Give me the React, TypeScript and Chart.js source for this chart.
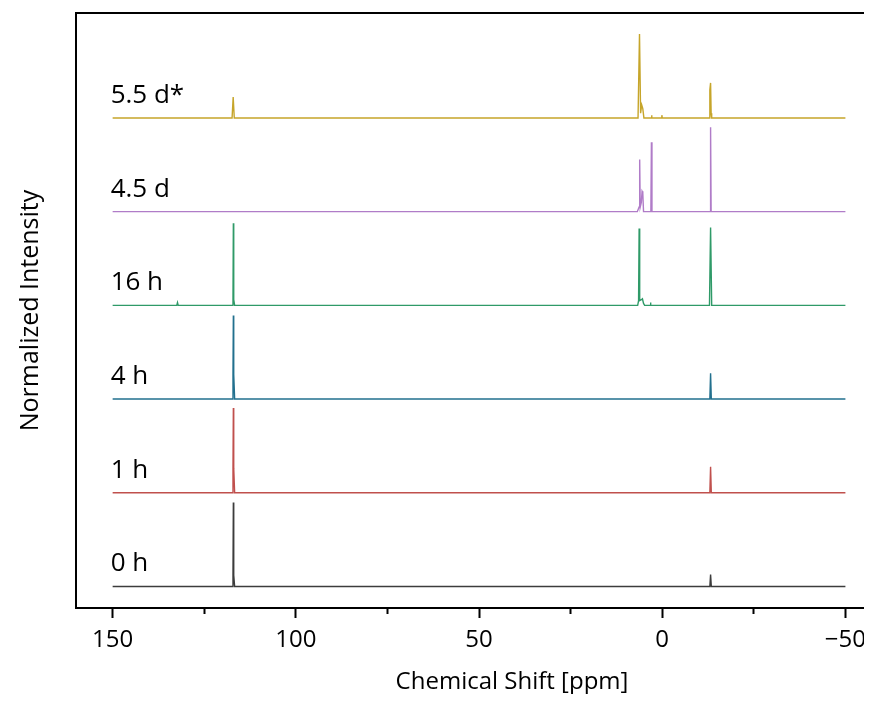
import React, { useEffect, useRef } from 'react';
import { Chart, registerables } from 'chart.js';

Chart.register(...registerables);

// Series (bottom to top)
const seriesLabels = ['0 h', '1 h', '4 h', '16 h', '4.5 d', '5.5 d*'];
const seriesColors = ['#3c3c3c', '#c0504d', '#22708e', '#2f9a68', '#b07cc8', '#c6a52a'];
const stackOffsets = [0, 1, 2, 3, 4, 5];

// [chemical shift (ppm), normalized intensity]
const spectrum0h: [number, number][] = [
  [150, 0], [117.4, 0], [117.15, 0.12], [117.05, 0.897], [116.95, 0.12], [116.7, 0],
  [-13.0, 0], [-13.2, 0.128], [-13.4, 0], [-50, 0],
];
const spectrum1h: [number, number][] = [
  [150, 0], [117.4, 0], [117.15, 0.26], [117.05, 0.905], [116.95, 0.26], [116.7, 0],
  [-13.0, 0], [-13.2, 0.278], [-13.4, 0], [-50, 0],
];
const spectrum4h: [number, number][] = [
  [150, 0], [117.4, 0], [117.15, 0.262], [117.05, 0.892], [116.95, 0.262], [116.7, 0],
  [-13.0, 0], [-13.2, 0.276], [-13.4, 0], [-50, 0],
];
const spectrum16h: [number, number][] = [
  [150, 0], [132.5, 0], [132.3, 0.03], [132.1, 0], [117.4, 0], [117.15, 0.06], [117.05, 0.876],
  [116.95, 0.06], [116.7, 0], [6.7, 0], [6.45, 0.05], [6.3, 0.82], [6.15, 0.05], [5.7, 0.06],
  [5.4, 0.07], [5.1, 0.02], [4.8, 0], [3.3, 0], [3.2, 0.03], [3.1, 0], [-12.9, 0], [-13.2, 0.83],
  [-13.5, 0], [-50, 0],
];
const spectrum45d: [number, number][] = [
  [150, 0], [6.8, 0], [6.3, 0.05], [6.15, 0.556], [6.0, 0.05], [5.7, 0.1], [5.5, 0.217],
  [5.3, 0.2], [5.1, 0], [3.1, 0], [2.95, 0.74], [2.8, 0], [-13.05, 0], [-13.2, 0.9],
  [-13.35, 0], [-50, 0],
];
const spectrum55d: [number, number][] = [
  [150, 0], [117.4, 0], [117.1, 0.224], [116.8, 0], [6.6, 0], [6.2, 0.897], [5.9, 0.05],
  [5.6, 0.139], [5.3, 0.1], [5.0, 0], [3.0, 0], [2.9, 0.03], [2.8, 0], [0.2, 0], [0.1, 0.03],
  [0.0, 0], [-12.8, 0], [-13.0, 0.3], [-13.2, 0.374], [-13.35, 0.05], [-13.5, 0], [-50, 0],
];
const spectra = [spectrum0h, spectrum1h, spectrum4h, spectrum16h, spectrum45d, spectrum55d];

// Axis
const xTickValues = [150, 125, 100, 75, 50, 25, 0, -25, -50, -75];
const xMajorTicks = [150, 100, 50, 0, -50];
const xTickLabels = ['150', '100', '50', '0', '\u221250'];
const xMin = -78;
const xMax = 160;
const yMin = -0.23;
const yMax = 6.12;

const FONT = '"Open Sans", "Noto Sans", sans-serif';

export default function App() {
  const ref = useRef<HTMLCanvasElement>(null);

  useEffect(() => {
    if (!ref.current) return;
    const labelPlugin = {
      id: 'stackLabels',
      afterDatasetsDraw(chart: any) {
        const { ctx, scales, chartArea } = chart;
        const x = scales.x;
        const y = scales.y;
        ctx.save();
        ctx.strokeStyle = '#000';
        ctx.lineWidth = 2;
        ctx.beginPath();
        ctx.moveTo(chartArea.left - 1, chartArea.top);
        ctx.lineTo(chartArea.right, chartArea.top);
        ctx.stroke();
        ctx.font = `26px ${FONT}`;
        ctx.fillStyle = '#000';
        ctx.textAlign = 'left';
        ctx.textBaseline = 'alphabetic';
        seriesLabels.forEach((lab, i) => {
          ctx.fillText(lab, x.getPixelForValue(150) - 2, y.getPixelForValue(stackOffsets[i]) - 15);
        });
        ctx.restore();
      },
    };

    const chart = new Chart(ref.current, {
      type: 'scatter',
      data: {
        datasets: spectra.map((s, i) => ({
          label: seriesLabels[i],
          data: s.map(([p, v]) => ({ x: p, y: v + stackOffsets[i] })),
          showLine: true,
          borderColor: seriesColors[i],
          backgroundColor: seriesColors[i],
          borderWidth: 1.4,
          pointRadius: 0,
          tension: 0,
        })),
      },
      options: {
        responsive: false,
        animation: false,
        devicePixelRatio: 1,
        layout: { padding: { top: 5, left: 0, right: 0, bottom: 0 } },
        plugins: { legend: { display: false }, tooltip: { enabled: false } },
        scales: {
          x: {
            type: 'linear',
            position: 'bottom',
            reverse: true,
            min: xMin,
            max: xMax,
            afterBuildTicks: (axis: any) => {
              axis.ticks = xTickValues.map((v) => ({ value: v }));
            },
            afterFit: (axis: any) => {
              axis.height = 86;
            },
            grid: {
              display: true,
              drawOnChartArea: false,
              drawTicks: true,
              tickLength: 10,
              tickWidth: 2,
              tickColor: '#000',
              tickBorderDash: (c: any) =>
                c.tick && xMajorTicks.includes(c.tick.value) ? [] : [5, 30],
            },
            border: { display: true, color: '#000', width: 2 },
            ticks: {
              autoSkip: false,
              maxRotation: 0,
              padding: 8,
              color: '#000',
              font: { family: FONT, size: 24 },
              callback: (v: any) => {
                const i = xMajorTicks.indexOf(Number(v));
                return i >= 0 ? xTickLabels[i] : '';
              },
            },
            title: {
              display: true,
              text: 'Chemical Shift [ppm]',
              color: '#000',
              font: { family: FONT, size: 24, lineHeight: 1.0 },
              padding: { top: 0, bottom: 0 },
            },
          },
          y: {
            type: 'linear',
            min: yMin,
            max: yMax,
            afterFit: (axis: any) => {
              axis.width = 68;
            },
            ticks: { display: false },
            grid: { display: false },
            border: { display: true, color: '#000', width: 2 },
            title: {
              display: true,
              text: 'Normalized Intensity',
              color: '#000',
              font: { family: FONT, size: 25 },
              padding: { top: 8, bottom: 0 },
            },
          },
        },
      },
      plugins: [labelPlugin],
    } as any);
    return () => chart.destroy();
  }, []);

  return (
    <div style={{ width: 864, height: 686, overflow: 'hidden' }}>
      <canvas ref={ref} width={940} height={686} style={{ display: 'block' }} />
    </div>
  );
}
